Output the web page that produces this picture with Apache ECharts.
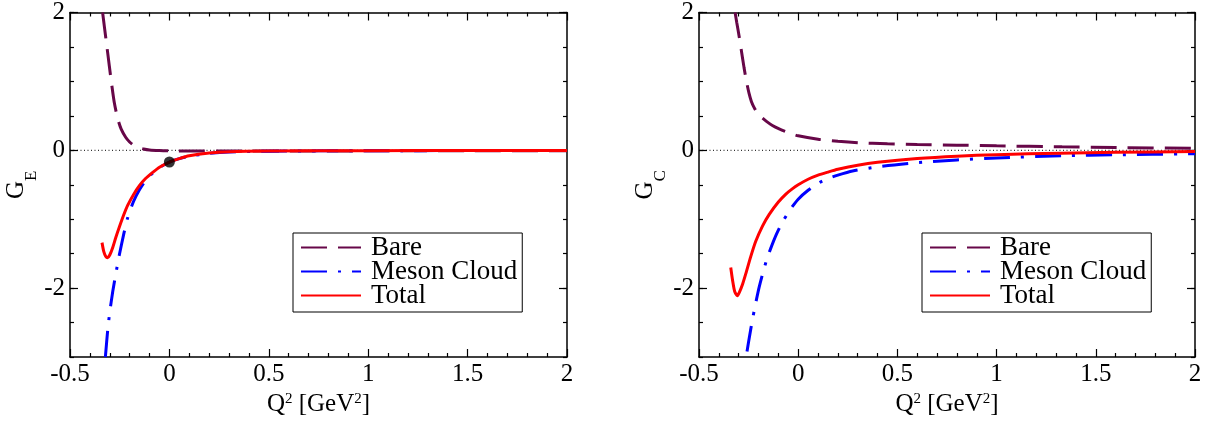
<!DOCTYPE html>
<html><head><meta charset="utf-8">
<script src="https://cdn.jsdelivr.net/npm/echarts@6/dist/echarts.min.js"></script>
<style>html,body{margin:0;padding:0;background:#fff}#c{width:1218px;height:427px}</style>
</head><body><div id="c"></div>
<script>
// ---------- data ----------
const seriesNames = ['Bare', 'Meson Cloud', 'Total'];
const xRange = [-0.5, 2];
const yRange = [-3, 2];
const yLabelValues = [-2, 0, 2];

// Left panel: G_E
const geBare = [[-0.336,2.0],[-0.326,1.77],[-0.315,1.52],[-0.302,1.22],[-0.29,0.95],[-0.277,0.69],[-0.26,0.46],[-0.243,0.31],[-0.22,0.19],[-0.2,0.12],[-0.185,0.085],[-0.16,0.045],[-0.13,0.02],[-0.1,0.005],[-0.05,-0.004],[0,-0.008],[0.1,-0.01],[0.3,-0.01],[0.6,-0.01],[1.0,-0.008],[1.5,-0.006],[2.0,-0.005]];
const geMeson = [[-0.322,-3.0],[-0.31,-2.6],[-0.30,-2.35],[-0.285,-2.05],[-0.27,-1.80],[-0.252,-1.52],[-0.23,-1.22],[-0.21,-0.98],[-0.18,-0.74],[-0.15,-0.57],[-0.12,-0.44],[-0.084,-0.33],[-0.05,-0.25],[0,-0.17],[0.05,-0.12],[0.1,-0.085],[0.2,-0.045],[0.3,-0.025],[0.5,-0.012],[1.0,-0.006],[1.5,-0.004],[2.0,-0.003]];
const geTotal = [[-0.339,-1.34],[-0.33,-1.47],[-0.32,-1.54],[-0.311,-1.56],[-0.30,-1.52],[-0.285,-1.41],[-0.27,-1.27],[-0.25,-1.10],[-0.23,-0.94],[-0.21,-0.80],[-0.18,-0.64],[-0.15,-0.51],[-0.12,-0.41],[-0.084,-0.32],[-0.05,-0.245],[0,-0.17],[0.05,-0.12],[0.1,-0.08],[0.2,-0.04],[0.3,-0.02],[0.5,-0.01],[1.0,-0.005],[1.5,-0.003],[2.0,-0.002]];
const gePoint = [[0, -0.17]];

// Right panel: G_C
const gcBare = [[-0.318,2.0],[-0.31,1.86],[-0.298,1.66],[-0.285,1.42],[-0.273,1.20],[-0.26,0.99],[-0.248,0.83],[-0.236,0.71],[-0.222,0.62],[-0.205,0.54],[-0.185,0.48],[-0.16,0.42],[-0.13,0.36],[-0.096,0.31],[-0.05,0.255],[0,0.21],[0.1,0.16],[0.2,0.13],[0.3,0.11],[0.45,0.095],[0.6,0.085],[0.8,0.075],[1.0,0.065],[1.33,0.05],[1.6,0.04],[2.0,0.03]];
const gcMeson = [[-0.258,-2.92],[-0.25,-2.78],[-0.24,-2.61],[-0.23,-2.45],[-0.22,-2.30],[-0.21,-2.16],[-0.197,-1.99],[-0.18,-1.80],[-0.16,-1.60],[-0.138,-1.42],[-0.11,-1.22],[-0.079,-1.04],[-0.04,-0.86],[0,-0.71],[0.05,-0.58],[0.106,-0.47],[0.15,-0.41],[0.2,-0.36],[0.274,-0.30],[0.4,-0.24],[0.6,-0.18],[0.8,-0.14],[1.0,-0.11],[1.33,-0.08],[1.6,-0.065],[2.0,-0.05]];
const gcTotal = [[-0.34,-1.70],[-0.33,-1.90],[-0.32,-2.05],[-0.307,-2.11],[-0.295,-2.05],[-0.28,-1.94],[-0.264,-1.79],[-0.24,-1.55],[-0.214,-1.32],[-0.18,-1.10],[-0.146,-0.93],[-0.10,-0.75],[-0.062,-0.635],[-0.03,-0.56],[0,-0.50],[0.05,-0.42],[0.1,-0.36],[0.15,-0.316],[0.2,-0.276],[0.3,-0.217],[0.4,-0.175],[0.6,-0.12],[0.8,-0.085],[1.0,-0.063],[1.32,-0.042],[1.6,-0.03],[2.0,-0.018]];

const zeroLine = [[-0.5, 0], [2, 0]];

// ---------- styling ----------
const FONT = "'Liberation Serif', 'Times New Roman', Times, serif";
const C_BARE = '#670748', C_MESON = '#0000ff', C_TOTAL = '#ff0000';
const DASH_BARE = [26, 11];
const DASH_MESON = [26, 11, 3, 11];
const tickLine = {color: '#000', width: 1.2};
const frameLine = {color: '#000', width: 1.5};

function xAxes(grid) {
  const common = {
    gridIndex: grid, type: 'value', min: xRange[0], max: xRange[1], interval: 0.5,
    axisLine: {show: true, onZero: false, lineStyle: frameLine},
    axisTick: {show: true, inside: true, length: 8, lineStyle: tickLine},
    minorTick: {show: true, splitNumber: 5, length: 4, lineStyle: tickLine},
    splitLine: {show: false}, minorSplitLine: {show: false}
  };
  return [
    Object.assign({}, common, {
      position: 'bottom',
      axisLabel: {show: true, color: '#000', fontSize: 25, fontFamily: FONT, margin: 5},
      name: '{a|Q}{s|2}{a| [GeV}{s|2}{a|]}', nameLocation: 'middle', nameGap: 34,
      nameTextStyle: {color: '#000', fontFamily: FONT, fontSize: 25, rich: {
        a: {fontSize: 25, lineHeight: 28, verticalAlign: 'top', fontFamily: FONT, color: '#000'},
        s: {fontSize: 15, lineHeight: 15, verticalAlign: 'top', fontFamily: FONT, color: '#000'}
      }}
    }),
    Object.assign({}, common, {position: 'top', axisLabel: {show: false}})
  ];
}

function yAxes(grid, sub) {
  const base = {gridIndex: grid, type: 'value', min: yRange[0], max: yRange[1], interval: 0.5,
    splitLine: {show: false}};
  const minor = Object.assign({}, base, {
    axisLine: {show: true, onZero: false, lineStyle: frameLine},
    axisTick: {show: true, inside: true, length: 4, lineStyle: tickLine}
  });
  const major = Object.assign({}, base, {
    axisLine: {show: false, onZero: false},
    axisTick: {show: true, inside: true, length: 8, customValues: yLabelValues, lineStyle: tickLine},
    axisLabel: {show: false}
  });
  return [
    Object.assign({}, minor, {
      position: 'left',
      axisLabel: {show: true, customValues: yLabelValues, color: '#000', fontSize: 25, fontFamily: FONT, margin: 5},
      name: '{g|G}{e|' + sub + '}', nameLocation: 'middle', nameRotate: 90, nameGap: 31,
      nameTextStyle: {color: '#000', fontFamily: FONT, fontSize: 24, rich: {
        g: {fontSize: 25, lineHeight: 25, verticalAlign: 'top', fontFamily: FONT, color: '#000'},
        e: {fontSize: 17, lineHeight: 17, verticalAlign: 'top', padding: [19, 0, 0, 0], fontFamily: FONT, color: '#000'}
      }}
    }),
    Object.assign({}, major, {position: 'left'}),
    Object.assign({}, minor, {position: 'right', axisLabel: {show: false}}),
    Object.assign({}, major, {position: 'right'})
  ];
}

function line(name, data, xi, yi, color, type, z) {
  return {
    type: 'line', name: name, data: data, xAxisIndex: xi, yAxisIndex: yi,
    symbol: 'none', smooth: 0.25, clip: true,
    lineStyle: {color: color, width: 3, type: type, cap: 'butt'},
    itemStyle: {color: color}, z: z
  };
}
function zero(xi, yi) {
  return {type: 'line', name: 'zero', data: zeroLine, xAxisIndex: xi, yAxisIndex: yi,
    symbol: 'none', silent: true, lineStyle: {color: '#000', width: 1, type: [1, 2.5]}, z: 1};
}

function legend(left) {
  return {
    data: seriesNames, orient: 'vertical', left: left, top: 233,
    borderColor: '#000', borderWidth: 1, padding: [1, 5, 3, 7], itemGap: -3,
    itemWidth: 60, itemHeight: 22, selectedMode: false,
    itemStyle: {opacity: 0},
    textStyle: {fontSize: 27, fontFamily: FONT, color: '#000', lineHeight: 24, padding: [0, 0, 0, 5]}
  };
}

const chart = echarts.init(document.getElementById('c'), null, {renderer: 'canvas'});
chart.setOption({
  animation: false,
  backgroundColor: '#fff',
  textStyle: {fontFamily: FONT},
  grid: [
    {left: 70, top: 10, width: 497, height: 347},
    {left: 699, top: 10, width: 496, height: 347}
  ],
  xAxis: xAxes(0).concat(xAxes(1)),
  yAxis: yAxes(0, 'E').concat(yAxes(1, 'C')),
  legend: [legend(293), legend(922)],
  series: [
    zero(0, 0),
    line('Bare', geBare, 0, 0, C_BARE, DASH_BARE, 3),
    line('Meson Cloud', geMeson, 0, 0, C_MESON, DASH_MESON, 3),
    line('Total', geTotal, 0, 0, C_TOTAL, 'solid', 4),
    {type: 'scatter', name: 'point', data: gePoint, xAxisIndex: 0, yAxisIndex: 0,
     symbol: 'circle', symbolSize: 11, itemStyle: {color: '#000'}, z: 6},
    zero(2, 4),
    line('Bare', gcBare, 2, 4, C_BARE, DASH_BARE, 3),
    line('Meson Cloud', gcMeson, 2, 4, C_MESON, DASH_MESON, 3),
    line('Total', gcTotal, 2, 4, C_TOTAL, 'solid', 4)
  ]
});
</script>
</body></html>
